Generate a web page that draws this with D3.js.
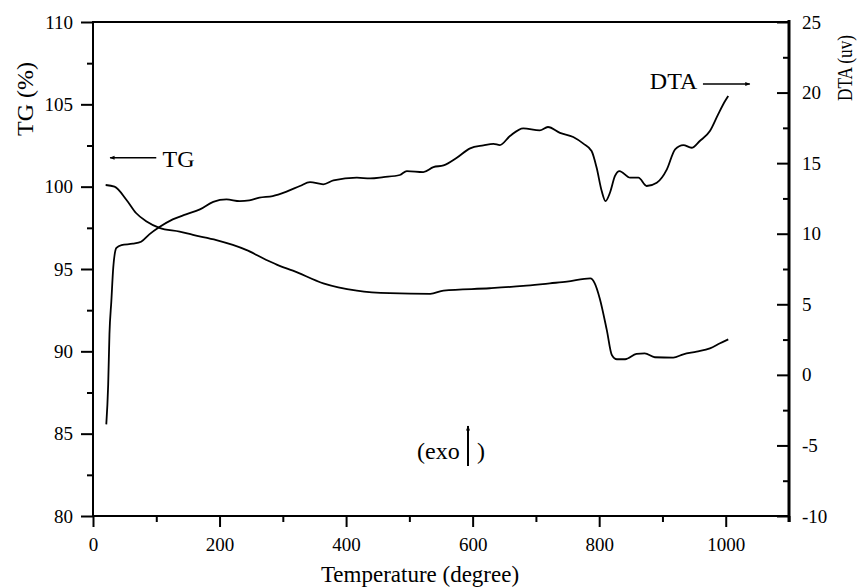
<!DOCTYPE html>
<html>
<head>
<meta charset="utf-8">
<script src="https://cdn.jsdelivr.net/npm/d3@7"></script>
<style>
  body { margin: 0; background: #fff; }
  svg { display: block; font-family: "Liberation Serif", serif; }
</style>
</head>
<body>
<svg id="chart"></svg>
<script>
// TG curve (left axis, %)
const tgTemp = [20, 34, 53, 68, 84, 105, 137, 158, 195, 221, 242, 274, 295, 316, 364, 417, 469, 533, 554, 627, 680, 722, 749, 786, 793, 801, 812, 820, 828, 841, 859, 872, 888, 917, 933, 954, 975, 991, 1004];
const tgValue = [100.1, 100.0, 99.19, 98.4, 97.9, 97.5, 97.27, 97.07, 96.76, 96.46, 96.16, 95.55, 95.19, 94.9, 94.13, 93.69, 93.53, 93.49, 93.69, 93.83, 93.97, 94.13, 94.23, 94.43, 94.13, 93.2, 91.3, 89.78, 89.52, 89.52, 89.84, 89.88, 89.64, 89.62, 89.82, 89.98, 90.18, 90.49, 90.73];

// DTA curve (right axis, uv)
const dtaTemp = [21, 24, 26, 29, 32, 37, 45, 63, 76, 89, 105, 126, 147, 169, 190, 211, 232, 247, 263, 284, 305, 327, 343, 364, 380, 417, 438, 459, 485, 496, 522, 538, 554, 575, 596, 617, 633, 643, 659, 680, 706, 719, 738, 759, 775, 788, 796, 804, 810, 817, 825, 832, 849, 862, 875, 891, 907, 920, 933, 946, 959, 975, 988, 999, 1004];
const dtaValue = [-3.51, -0.68, 2.87, 5.23, 7.59, 9.0, 9.2, 9.29, 9.43, 9.95, 10.47, 11.02, 11.37, 11.72, 12.26, 12.43, 12.31, 12.36, 12.55, 12.67, 12.97, 13.38, 13.66, 13.5, 13.78, 13.97, 13.92, 14.01, 14.16, 14.44, 14.37, 14.72, 14.84, 15.38, 16.05, 16.26, 16.37, 16.28, 16.92, 17.47, 17.32, 17.56, 17.15, 16.85, 16.38, 15.86, 14.67, 13.02, 12.31, 12.9, 14.09, 14.44, 13.97, 13.97, 13.38, 13.61, 14.56, 15.98, 16.28, 16.09, 16.57, 17.28, 18.46, 19.4, 19.76];

// Ticks
const xTicks = [0, 200, 400, 600, 800, 1000];
const xMinorTicks = [100, 300, 500, 700, 900, 1100];
const tgTicks = [80, 85, 90, 95, 100, 105, 110];
const tgMinorTicks = [82.5, 87.5, 92.5, 97.5, 102.5, 107.5];
const dtaTicks = [-10, -5, 0, 5, 10, 15, 20, 25];
const dtaMinorTicks = [-7.5, -2.5, 2.5, 7.5, 12.5, 17.5, 22.5];

const serif = '"Liberation Serif", serif';

// restyle a d3 axis group: serif labels, thick black ticks, no domain path
function styleAxis(g) {
    g.attr('font-family', serif).attr('font-size', 19);
    g.select('.domain').remove();
    g.selectAll('.tick line').attr('stroke', '#000').attr('stroke-width', 2);
    g.selectAll('.tick text').attr('fill', '#000').style('font-family', serif).style('font-size', '19px');
}

function drawChart() {
    const width = 857;
    const height = 587;
    const margin = { top: 22, right: 68, bottom: 71, left: 93 };
    const plain = d => String(d);  // hyphen minus, no thousands comma

    const svg = d3.select('#chart')
        .attr('width', width)
        .attr('height', height);

    const x = d3.scaleLinear()
        .domain([0, 1100])
        .range([margin.left, width - margin.right]);

    const yTG = d3.scaleLinear()
        .domain([80, 110])
        .range([height - margin.bottom, margin.top]);

    const yDTA = d3.scaleLinear()
        .domain([-10, 25])
        .range([height - margin.bottom, margin.top]);

    const x0 = x(0), x1 = x(1100);
    const y0 = yTG(80), y1 = yTG(110);

    // bottom axis
    svg.append('g')
        .attr('transform', `translate(0,${y0})`)
        .call(d3.axisBottom(x).tickValues(xTicks).tickFormat(plain).tickSize(11).tickSizeOuter(0).tickPadding(11))
        .call(styleAxis);
    svg.append('g')
        .attr('transform', `translate(0,${y0})`)
        .call(d3.axisBottom(x).tickValues(xMinorTicks).tickSize(6).tickFormat(''))
        .call(styleAxis);

    // left axis
    svg.append('g')
        .attr('transform', `translate(${x0},0)`)
        .call(d3.axisLeft(yTG).tickValues(tgTicks).tickFormat(plain).tickSize(12).tickPadding(8))
        .call(styleAxis);
    svg.append('g')
        .attr('transform', `translate(${x0},0)`)
        .call(d3.axisLeft(yTG).tickValues(tgMinorTicks).tickSize(6).tickFormat(''))
        .call(styleAxis);

    // right axis (ticks point inward, labels outside)
    const rightAxis = svg.append('g')
        .attr('transform', `translate(${x1},0)`)
        .call(d3.axisRight(yDTA).tickValues(dtaTicks).tickFormat(plain).tickSize(-12).tickPadding(14))
        .call(styleAxis);
    rightAxis.selectAll('.tick text').attr('x', 13);
    svg.append('g')
        .attr('transform', `translate(${x1},0)`)
        .call(d3.axisRight(yDTA).tickValues(dtaMinorTicks).tickSize(-6).tickFormat(''))
        .call(styleAxis);

    // frame
    svg.append('line').attr('x1', x0).attr('x2', x1 + 1).attr('y1', y1).attr('y2', y1)
        .attr('stroke', '#000').attr('stroke-width', 2);
    svg.append('line').attr('x1', x0).attr('x2', x1 + 1).attr('y1', y0).attr('y2', y0)
        .attr('stroke', '#000').attr('stroke-width', 2);
    svg.append('line').attr('x1', x0).attr('x2', x0).attr('y1', y1 - 1).attr('y2', y0 + 1)
        .attr('stroke', '#000').attr('stroke-width', 2);
    svg.append('line').attr('x1', x1).attr('x2', x1).attr('y1', y1 - 2).attr('y2', y0 + 6)
        .attr('stroke', '#000').attr('stroke-width', 3);

    // curves
    const tgData = tgTemp.map((t, i) => ({ t, v: tgValue[i] }));
    const dtaData = dtaTemp.map((t, i) => ({ t, v: dtaValue[i] }));

    svg.append('path')
        .datum(tgData)
        .attr('fill', 'none')
        .attr('stroke', '#000')
        .attr('stroke-width', 1.8)
        .attr('d', d3.line().x(d => x(d.t)).y(d => yTG(d.v)).curve(d3.curveMonotoneX));

    svg.append('path')
        .datum(dtaData)
        .attr('fill', 'none')
        .attr('stroke', '#000')
        .attr('stroke-width', 1.8)
        .attr('d', d3.line().x(d => x(d.t)).y(d => yDTA(d.v)).curve(d3.curveMonotoneX));

    // arrowhead marker
    svg.append('defs').append('marker')
        .attr('id', 'arrow')
        .attr('viewBox', '0 0 10 10')
        .attr('refX', 9).attr('refY', 5)
        .attr('markerWidth', 7).attr('markerHeight', 5)
        .attr('markerUnits', 'userSpaceOnUse')
        .attr('orient', 'auto')
        .append('path').attr('d', 'M0,1 L10,5 L0,9 Z').attr('fill', '#000');

    // TG annotation
    svg.append('line')
        .attr('x1', x(100)).attr('y1', yTG(101.75))
        .attr('x2', x(27)).attr('y2', yTG(101.75))
        .attr('stroke', '#000').attr('stroke-width', 1.5)
        .attr('marker-end', 'url(#arrow)');
    svg.append('text')
        .attr('x', x(110)).attr('y', yTG(101.2))
        .style('font-size', '24px')
        .text('TG');

    // DTA annotation
    svg.append('line')
        .attr('x1', x(964)).attr('y1', yDTA(20.6))
        .attr('x2', x(1038)).attr('y2', yDTA(20.6))
        .attr('stroke', '#000').attr('stroke-width', 1.5)
        .attr('marker-end', 'url(#arrow)');
    svg.append('text')
        .attr('x', x(955)).attr('y', yDTA(20.25))
        .attr('text-anchor', 'end')
        .style('font-size', '24px')
        .text('DTA');

    // exo annotation
    svg.append('text')
        .attr('x', 417).attr('y', 459)
        .style('font-size', '24px')
        .text('(exo');
    svg.append('line')
        .attr('x1', 468).attr('y1', 466)
        .attr('x2', 468).attr('y2', 426)
        .attr('stroke', '#000').attr('stroke-width', 2)
        .attr('marker-end', 'url(#arrow)');
    svg.append('text')
        .attr('x', 477).attr('y', 459)
        .style('font-size', '24px')
        .text(')');

    // axis titles
    svg.append('text')
        .attr('x', 420).attr('y', 582)
        .attr('text-anchor', 'middle')
        .style('font-size', '23px')
        .text('Temperature (degree)');

    svg.append('text')
        .attr('transform', 'translate(33,99) rotate(-90)')
        .attr('text-anchor', 'middle')
        .style('font-size', '24px')
        .text('TG (%)');

    svg.append('text')
        .attr('transform', 'translate(852,68) rotate(-90)')
        .attr('text-anchor', 'middle')
        .style('font-size', '22px')
        .attr('textLength', 66)
        .attr('lengthAdjust', 'spacingAndGlyphs')
        .text('DTA (uv)');
}

document.addEventListener('DOMContentLoaded', drawChart);
</script>
</body>
</html>
